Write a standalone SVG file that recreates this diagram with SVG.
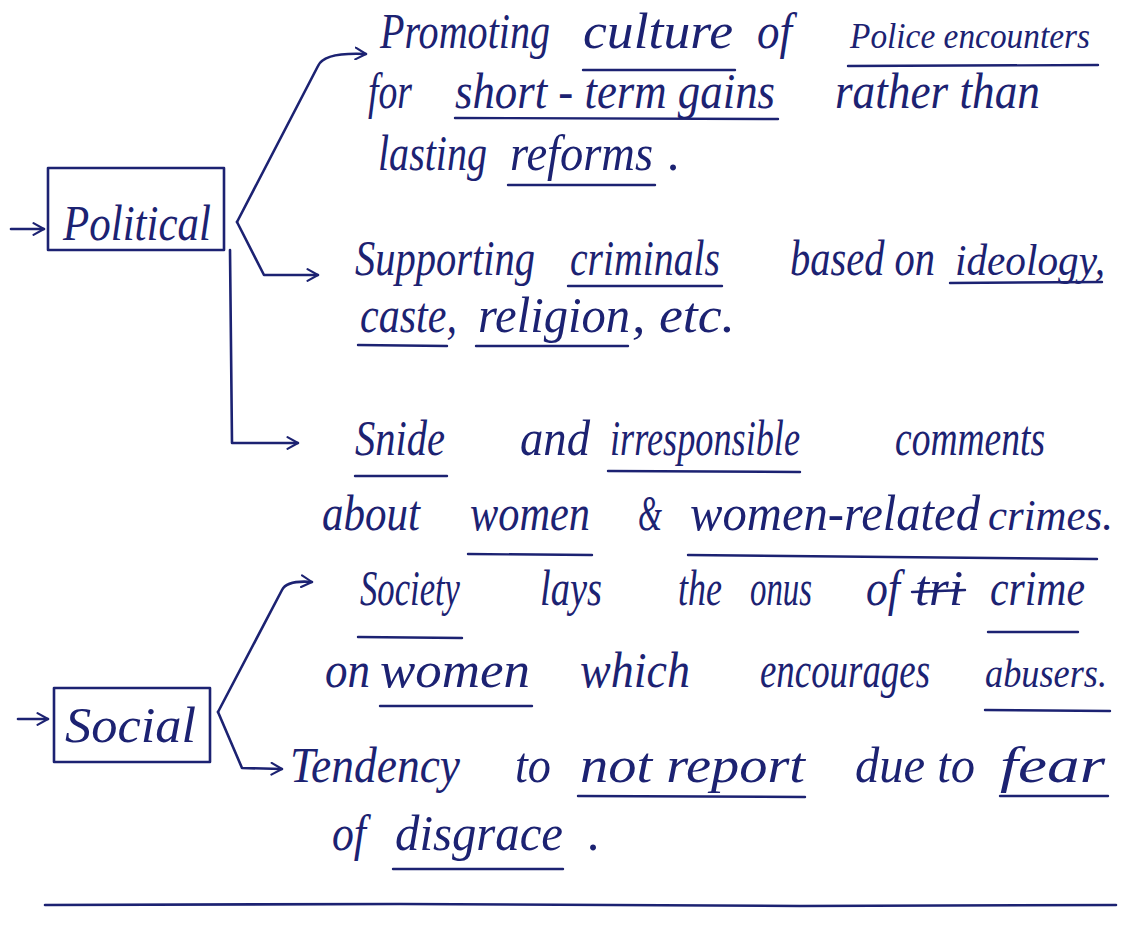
<svg xmlns="http://www.w3.org/2000/svg" width="1135" height="926" viewBox="0 0 1135 926">
<style>
.t{font-family:"Liberation Serif",serif;font-style:italic;font-size:50px;fill:#1c2272}
.s{font-size:40px}
.xs{font-size:36px}
.m{font-size:44px}
.l{stroke:#1c2272;stroke-width:2.6;fill:none;stroke-linecap:round;stroke-linejoin:round}
.u{stroke:#1c2272;stroke-width:2.4;stroke-linecap:round}
</style>
<defs>
<marker id="ah" viewBox="0 0 12 12" refX="10" refY="6" markerWidth="14" markerHeight="14" markerUnits="userSpaceOnUse" orient="auto">
<path d="M1,1 L10,6 L1,11" fill="none" stroke="#1c2272" stroke-width="1.8" stroke-linecap="round" stroke-linejoin="round"/>
</marker>
</defs>
<rect width="1135" height="926" fill="#ffffff"/>

<g id="node-political">
<rect x="48" y="168" width="176" height="82" class="l"/>
<text class="t" x="63" y="240" textLength="148" lengthAdjust="spacingAndGlyphs">Political</text>
</g>

<g id="node-social">
<rect x="54" y="688" width="156" height="74" class="l"/>
<text class="t" x="65" y="742" textLength="131" lengthAdjust="spacingAndGlyphs">Social</text>
</g>

<g id="node-p1">
<text class="t" x="380" y="48" textLength="170" lengthAdjust="spacingAndGlyphs">Promoting</text>
<text class="t" x="583" y="48" textLength="150" lengthAdjust="spacingAndGlyphs">culture</text>
<text class="t" x="757" y="48" textLength="35" lengthAdjust="spacingAndGlyphs">of</text>
<text class="t xs" x="850" y="48" textLength="240" lengthAdjust="spacingAndGlyphs">Police encounters</text>
<text class="t" x="368" y="108" textLength="44" lengthAdjust="spacingAndGlyphs">for</text>
<text class="t" x="455" y="108" textLength="320" lengthAdjust="spacingAndGlyphs">short - term gains</text>
<text class="t" x="835" y="108" textLength="205" lengthAdjust="spacingAndGlyphs">rather than</text>
<text class="t" x="378" y="170" textLength="109" lengthAdjust="spacingAndGlyphs">lasting</text>
<text class="t" x="510" y="170" textLength="143" lengthAdjust="spacingAndGlyphs">reforms</text>
<text class="t" x="668" y="170">.</text>
</g>

<g id="node-p2">
<text class="t" x="355" y="275" textLength="180" lengthAdjust="spacingAndGlyphs">Supporting</text>
<text class="t" x="570" y="275" textLength="150" lengthAdjust="spacingAndGlyphs">criminals</text>
<text class="t" x="790" y="275" textLength="145" lengthAdjust="spacingAndGlyphs">based on</text>
<text class="t m" x="955" y="275" textLength="150" lengthAdjust="spacingAndGlyphs">ideology,</text>
<text class="t" x="360" y="332" textLength="97" lengthAdjust="spacingAndGlyphs">caste,</text>
<text class="t" x="478" y="332" textLength="152" lengthAdjust="spacingAndGlyphs">religion</text>
<text class="t" x="632" y="332" textLength="103" lengthAdjust="spacingAndGlyphs">, etc.</text>
</g>

<g id="node-p3">
<text class="t" x="355" y="455" textLength="90" lengthAdjust="spacingAndGlyphs">Snide</text>
<text class="t" x="520" y="455" textLength="70" lengthAdjust="spacingAndGlyphs">and</text>
<text class="t" x="610" y="455" textLength="190" lengthAdjust="spacingAndGlyphs">irresponsible</text>
<text class="t" x="895" y="455" textLength="150" lengthAdjust="spacingAndGlyphs">comments</text>
<text class="t" x="322" y="530" textLength="98" lengthAdjust="spacingAndGlyphs">about</text>
<text class="t" x="470" y="530" textLength="120" lengthAdjust="spacingAndGlyphs">women</text>
<text class="t" x="638" y="530" textLength="24" lengthAdjust="spacingAndGlyphs">&amp;</text>
<text class="t" x="690" y="530" textLength="290" lengthAdjust="spacingAndGlyphs">women-related</text>
<text class="t m" x="988" y="530" textLength="125" lengthAdjust="spacingAndGlyphs">crimes.</text>
</g>

<g id="node-s1">
<text class="t" x="360" y="605" textLength="100" lengthAdjust="spacingAndGlyphs">Society</text>
<text class="t" x="540" y="605" textLength="62" lengthAdjust="spacingAndGlyphs">lays</text>
<text class="t" x="678" y="605" textLength="44" lengthAdjust="spacingAndGlyphs">the</text>
<text class="t" x="750" y="605" textLength="62" lengthAdjust="spacingAndGlyphs">onus</text>
<text class="t" x="866" y="605" textLength="34" lengthAdjust="spacingAndGlyphs">of</text>
<text class="t" x="915" y="605" textLength="48" lengthAdjust="spacingAndGlyphs">tri</text>
<text class="t" x="990" y="605" textLength="95" lengthAdjust="spacingAndGlyphs">crime</text>
<text class="t" x="325" y="687" textLength="45" lengthAdjust="spacingAndGlyphs">on</text>
<text class="t" x="380" y="687" textLength="150" lengthAdjust="spacingAndGlyphs">women</text>
<text class="t" x="580" y="687" textLength="110" lengthAdjust="spacingAndGlyphs">which</text>
<text class="t" x="760" y="687" textLength="170" lengthAdjust="spacingAndGlyphs">encourages</text>
<text class="t s" x="985" y="687" textLength="122" lengthAdjust="spacingAndGlyphs">abusers.</text>
</g>

<g id="node-s2">
<text class="t" x="290" y="782" textLength="170" lengthAdjust="spacingAndGlyphs">Tendency</text>
<text class="t" x="515" y="782" textLength="36" lengthAdjust="spacingAndGlyphs">to</text>
<text class="t" x="580" y="782" textLength="225" lengthAdjust="spacingAndGlyphs">not report</text>
<text class="t" x="855" y="782" textLength="120" lengthAdjust="spacingAndGlyphs">due to</text>
<text class="t" x="1000" y="782" textLength="105" lengthAdjust="spacingAndGlyphs">fear</text>
<text class="t" x="332" y="850" textLength="34" lengthAdjust="spacingAndGlyphs">of</text>
<text class="t" x="395" y="850" textLength="168" lengthAdjust="spacingAndGlyphs">disgrace</text>
<text class="t" x="588" y="850">.</text>
</g>

<g id="underlines">
<line class="u" x1="583" y1="70" x2="735" y2="70"/>
<line class="u" x1="848" y1="66" x2="1098" y2="65"/>
<line class="u" x1="455" y1="118" x2="778" y2="119"/>
<line class="u" x1="508" y1="185" x2="655" y2="185"/>
<line class="u" x1="568" y1="286" x2="722" y2="286"/>
<line class="u" x1="950" y1="283" x2="1102" y2="282"/>
<line class="u" x1="358" y1="345" x2="447" y2="346"/>
<line class="u" x1="476" y1="346" x2="628" y2="346"/>
<line class="u" x1="355" y1="476" x2="447" y2="476"/>
<line class="u" x1="608" y1="471" x2="800" y2="472"/>
<line class="u" x1="468" y1="554" x2="592" y2="555"/>
<line class="u" x1="688" y1="555" x2="1097" y2="559"/>
<line class="u" x1="358" y1="637" x2="462" y2="638"/>
<line class="u" x1="988" y1="632" x2="1078" y2="632"/>
<line class="u" x1="380" y1="706" x2="532" y2="706"/>
<line class="u" x1="985" y1="710" x2="1110" y2="711"/>
<line class="u" x1="578" y1="796" x2="805" y2="797"/>
<line class="u" x1="1000" y1="796" x2="1108" y2="796"/>
<line class="u" x1="393" y1="869" x2="563" y2="869"/>
<line class="u" x1="912" y1="592" x2="965" y2="590"/>
</g>

<g id="connectors">
<line class="l" x1="11" y1="229" x2="44" y2="229" marker-end="url(#ah)"/>
<path class="l" d="M237,222 L318,66 Q324,52 366,54" marker-end="url(#ah)"/>
<path class="l" d="M237,222 L264,275 L318,275" marker-end="url(#ah)"/>
<path class="l" d="M230,250 L232,443 L298,443" marker-end="url(#ah)"/>
<line class="l" x1="18" y1="719" x2="48" y2="719" marker-end="url(#ah)"/>
<path class="l" d="M218,712 L282,590 Q287,580 312,582" marker-end="url(#ah)"/>
<path class="l" d="M218,712 L242,768 L282,769" marker-end="url(#ah)"/>
<path class="l" d="M45,905 L400,904 L800,906 L1116,905"/>
</g>
</svg>
